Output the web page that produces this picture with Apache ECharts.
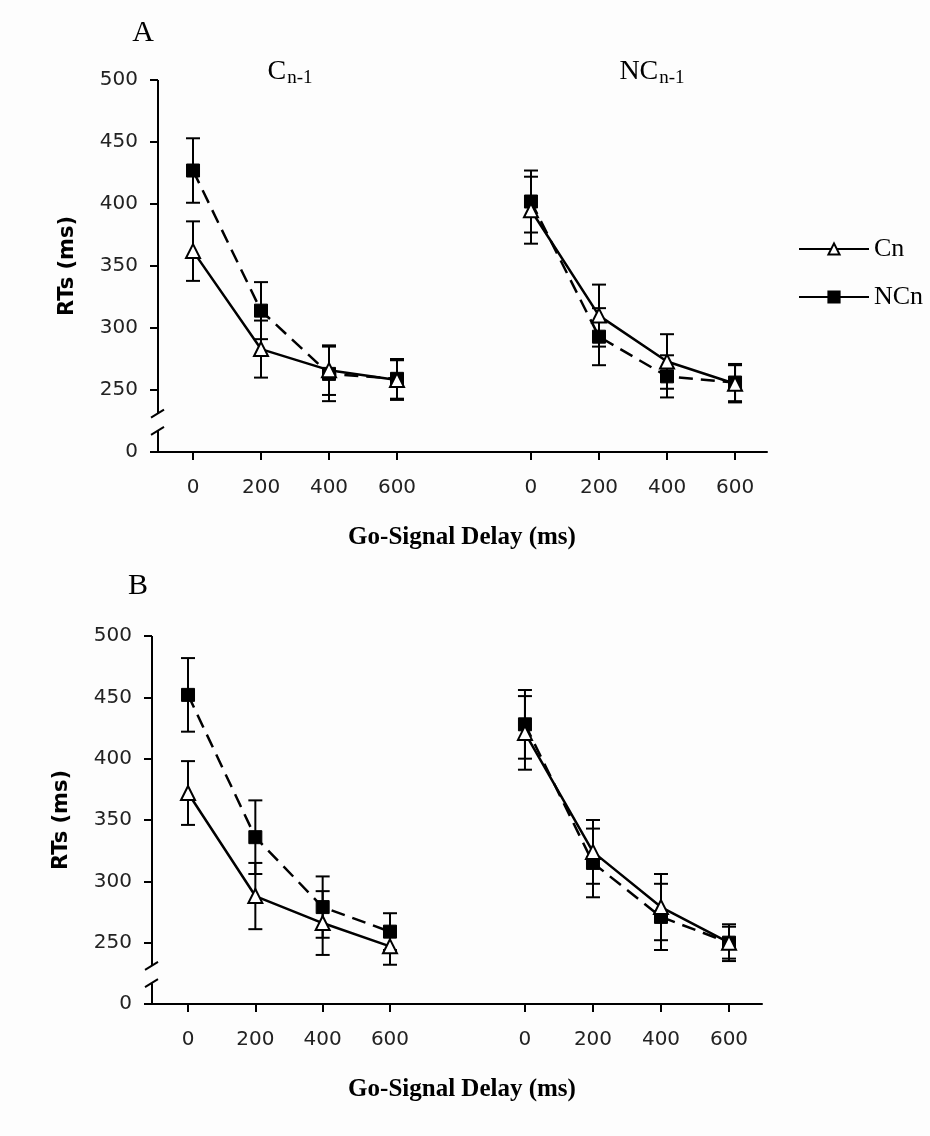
<!DOCTYPE html>
<html><head><meta charset="utf-8">
<script src="https://cdn.jsdelivr.net/npm/echarts@6/dist/echarts.min.js"></script>
<style>html,body{margin:0;padding:0;background:#fdfdfd}#c{width:930px;height:1136px}</style>
</head><body><div id="c"></div>
<script>
// ---- data ----
const delays = [0, 200, 400, 600];
const yTickValues = [200, 250, 300, 350, 400, 450, 500]; // 200 slot shows the broken-axis "0"
const seriesNames = ['Cn', 'NCn'];
const panelTitles = ['C', 'NC'];
// Panel A, C n-1
const cnA1 = [362, 283, 266, 258];
const cnA1Err = [24, 23, 20, 16];
const ncnA1 = [427, 314, 263, 259];
const ncnA1Err = [26, 23, 22, 16];
// Panel A, NC n-1
const cnA2 = [395, 310, 273, 255];
const cnA2Err = [27, 25, 22, 15];
const ncnA2 = [402, 293, 261, 256];
const ncnA2Err = [25, 23, 17, 15];
// Panel B, C n-1
const cnB1 = [372, 288, 266, 247];
const cnB1Err = [26, 27, 26, 15];
const ncnB1 = [452, 336, 279, 259];
const ncnB1Err = [30, 30, 25, 15];
// Panel B, NC n-1
const cnB2 = [421, 324, 279, 250];
const cnB2Err = [30, 26, 27, 13];
const ncnB2 = [428, 315, 271, 250];
const ncnB2Err = [28, 28, 27, 15];

// ---- layout ----
const grids = [
  {left: 158, top: 80, width: 307, height: 372},
  {left: 465, top: 80, width: 302, height: 372},
  {left: 152, top: 636, width: 308, height: 368},
  {left: 460, top: 636, width: 302, height: 368}
];
const xRanges = [[-103, 800], [-194, 694], [-107, 808], [-191, 697]];
const panels = [
  {cn: cnA1, cnE: cnA1Err, ncn: ncnA1, ncnE: ncnA1Err},
  {cn: cnA2, cnE: cnA2Err, ncn: ncnA2, ncnE: ncnA2Err},
  {cn: cnB1, cnE: cnB1Err, ncn: ncnB1, ncnE: ncnB1Err},
  {cn: cnB2, cnE: cnB2Err, ncn: ncnB2, ncnE: ncnB2Err}
];

const SANS = 'DejaVu Sans';
const SERIF = 'Liberation Serif';
const BLACK = '#000';

const xAxes = grids.map((g, i) => ({
  type: 'value', gridIndex: i, min: xRanges[i][0], max: xRanges[i][1],
  axisLine: {show: true, onZero: false, lineStyle: {color: BLACK, width: 2}},
  axisTick: {show: true, customValues: delays, length: 8, lineStyle: {color: BLACK, width: 2}},
  axisLabel: {customValues: delays, margin: 26, fontFamily: SANS, fontSize: 20, color: '#222'},
  splitLine: {show: false}
}));
const yAxes = grids.map((g, i) => {
  const left = (i % 2 === 0);
  return {
    type: 'value', gridIndex: i, min: 200, max: 500, interval: 50,
    show: left, position: 'left',
    axisLine: {show: false, onZero: false},
    axisTick: {show: left, length: 8, lineStyle: {color: BLACK, width: 2}},
    axisLabel: {show: left, margin: 20, fontFamily: SANS, fontSize: 20, color: '#222',
      formatter: v => (v === 200 ? '0' : String(v))},
    splitLine: {show: false},
    name: left ? 'RTs (ms)' : '', nameLocation: 'middle', nameRotate: 90, nameGap: 80,
    nameTextStyle: {fontFamily: SANS, fontWeight: 'bold', fontSize: 21, color: BLACK}
  };
});

function pts(vals) { return delays.map((d, k) => [d, vals[k]]); }
function errData(vals, errs) { return delays.map((d, k) => [d, vals[k] - errs[k], vals[k] + errs[k]]); }
function errRender(params, api) {
  const lo = api.coord([api.value(0), api.value(1)]);
  const hi = api.coord([api.value(0), api.value(2)]);
  const w = 7;
  const st = {stroke: BLACK, lineWidth: 2};
  return {type: 'group', children: [
    {type: 'line', shape: {x1: lo[0], y1: lo[1], x2: hi[0], y2: hi[1]}, style: st},
    {type: 'line', shape: {x1: lo[0] - w, y1: lo[1], x2: lo[0] + w, y2: lo[1]}, style: st},
    {type: 'line', shape: {x1: hi[0] - w, y1: hi[1], x2: hi[0] + w, y2: hi[1]}, style: st}
  ]};
}

const series = [];
panels.forEach((p, i) => {
  series.push({type: 'custom', name: seriesNames[0] + '-err', xAxisIndex: i, yAxisIndex: i, z: 1,
    renderItem: errRender, data: errData(p.cn, p.cnE), silent: true});
  series.push({type: 'custom', name: seriesNames[1] + '-err', xAxisIndex: i, yAxisIndex: i, z: 1,
    renderItem: errRender, data: errData(p.ncn, p.ncnE), silent: true});
  series.push({type: 'line', name: seriesNames[0], xAxisIndex: i, yAxisIndex: i, z: 3,
    data: pts(p.cn), symbol: 'triangle', symbolSize: 14, showAllSymbol: true,
    itemStyle: {color: '#fff', borderColor: BLACK, borderWidth: 2},
    lineStyle: {color: BLACK, width: 2.5, type: 'solid'}});
  series.push({type: 'line', name: seriesNames[1], xAxisIndex: i, yAxisIndex: i, z: 2,
    data: pts(p.ncn), symbol: 'rect', symbolSize: 13, showAllSymbol: true,
    itemStyle: {color: BLACK, borderColor: BLACK, borderWidth: 1},
    lineStyle: {color: BLACK, width: 2.5, type: [14, 8]}});
});

const chart = echarts.init(document.getElementById('c'), null, {renderer: 'canvas'});
const option = {
  backgroundColor: '#fdfdfd',
  animation: false,
  grid: grids,
  xAxis: xAxes,
  yAxis: yAxes,
  legend: {
    data: [
      {name: seriesNames[0]},
      {name: seriesNames[1], lineStyle: {type: 'solid'}}
    ],
    orient: 'vertical', left: 793, top: 230,
    itemWidth: 70, itemHeight: 14, itemGap: 20,
    textStyle: {fontFamily: SERIF, fontSize: 26, color: BLACK, lineHeight: 28}
  },
  series: series
};
chart.setOption(option);

// ---- texts and broken y-axis lines ----
const graphics = [];
function txt(x, y, text, font, align) {
  graphics.push({type: 'text', x: x, y: y, style: {text: text, font: font, fill: BLACK,
    align: align || 'center', verticalAlign: 'middle'}});
}
txt(143, 33, 'A', '30px "' + SERIF + '"');
txt(138, 586, 'B', '30px "' + SERIF + '"');
txt(462, 538, 'Go-Signal Delay (ms)', 'bold 25px "' + SERIF + '"');
txt(462, 1090, 'Go-Signal Delay (ms)', 'bold 25px "' + SERIF + '"');
const subRich = {
  a: {fontFamily: SERIF, fontSize: 28, fill: BLACK, color: BLACK},
  b: {fontFamily: SERIF, fontSize: 19, fill: BLACK, color: BLACK, padding: [14, 0, 0, 1]}
};
[[290, 0], [652, 1]].forEach(([cx, k]) => {
  graphics.push({type: 'text', x: cx, y: 88, style: {
    text: '{a|' + panelTitles[k] + '}{b|n-1}', rich: subRich, align: 'center', verticalAlign: 'bottom'}});
});

[0, 2].forEach(gi => {
  const P = v => chart.convertToPixel({gridIndex: gi}, [xRanges[gi][0], v]);
  const top = P(500), brkA = P(231), brkB = P(217), bot = P(200);
  const x = top[0];
  const st = {stroke: BLACK, lineWidth: 2};
  graphics.push({type: 'line', shape: {x1: x, y1: top[1], x2: x, y2: brkA[1]}, style: st, z: 10});
  graphics.push({type: 'line', shape: {x1: x, y1: brkB[1], x2: x, y2: bot[1]}, style: st, z: 10});
  graphics.push({type: 'line', shape: {x1: x - 7, y1: brkA[1] + 4, x2: x + 6, y2: brkA[1] - 4}, style: st, z: 10});
  graphics.push({type: 'line', shape: {x1: x - 7, y1: brkB[1] + 4, x2: x + 6, y2: brkB[1] - 4}, style: st, z: 10});
});
chart.setOption({graphic: graphics});
</script>
</body></html>
